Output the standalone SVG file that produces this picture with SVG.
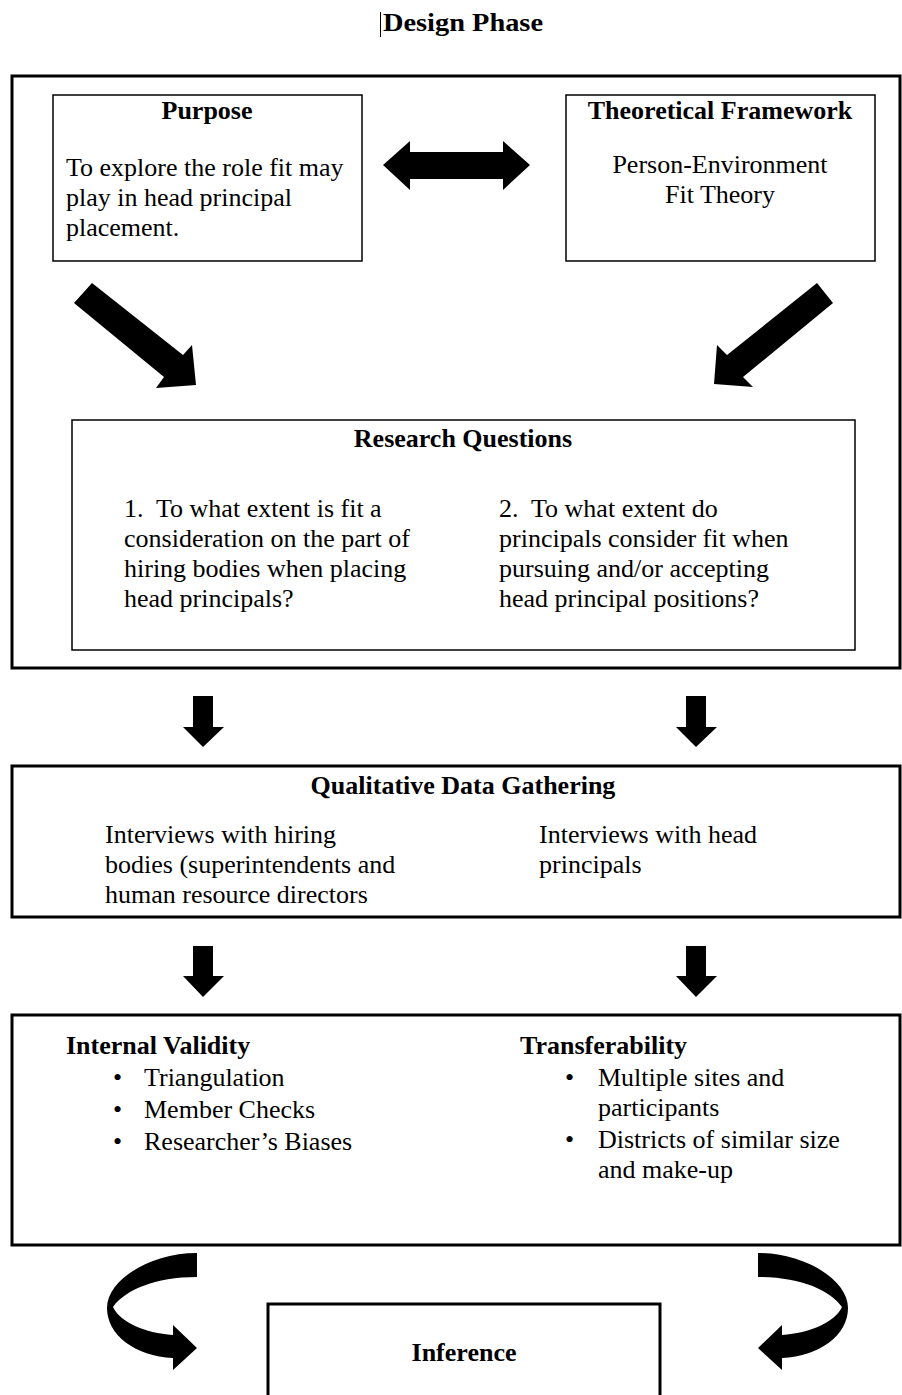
<svg xmlns="http://www.w3.org/2000/svg" width="902" height="1395" viewBox="0 0 902 1395">
<style>
text{font-family:"Liberation Serif","Times New Roman",serif;font-size:26px;fill:#000}
.b{font-weight:bold}
.m{text-anchor:middle}
.thick{fill:none;stroke:#000;stroke-width:3}
.thin{fill:none;stroke:#000;stroke-width:1.5}
.arr{fill:#000;stroke:none}
</style>
<rect width="902" height="1395" fill="#fff"/>
<g id="title">
<line x1="380.5" y1="12" x2="380.5" y2="37" stroke="#000" stroke-width="1"/>
<text x="383" y="31" class="b" textLength="160" lengthAdjust="spacingAndGlyphs">Design Phase</text>
</g>
<g id="design-frame"><rect class="thick" x="12" y="76" width="888" height="592"/></g>
<g id="purpose">
<rect class="thin" x="53" y="95" width="309" height="166"/>
<text x="207" y="119" class="b m">Purpose</text>
<text x="66" y="176">To explore the role fit may</text>
<text x="66" y="206">play in head principal</text>
<text x="66" y="236">placement.</text>
</g>
<g id="framework">
<rect class="thin" x="566" y="95" width="309" height="166"/>
<text x="720" y="119" class="b m">Theoretical Framework</text>
<text x="720" y="173" class="m">Person-Environment</text>
<text x="720" y="203" class="m">Fit Theory</text>
</g>
<g id="research-questions">
<rect class="thin" x="72" y="420" width="783" height="230"/>
<text x="463" y="447" class="b m">Research Questions</text>
<text x="124" y="517" xml:space="preserve">1.  To what extent is fit a</text>
<text x="124" y="547">consideration on the part of</text>
<text x="124" y="577">hiring bodies when placing</text>
<text x="124" y="607">head principals?</text>
<text x="499" y="517" xml:space="preserve">2.  To what extent do</text>
<text x="499" y="547">principals consider fit when</text>
<text x="499" y="577">pursuing and/or accepting</text>
<text x="499" y="607">head principal positions?</text>
</g>
<g id="data-gathering">
<rect class="thick" x="12" y="766" width="888" height="151"/>
<text x="463" y="794" class="b m">Qualitative Data Gathering</text>
<text x="105" y="843">Interviews with hiring</text>
<text x="105" y="873">bodies (superintendents and</text>
<text x="105" y="903">human resource directors</text>
<text x="539" y="843">Interviews with head</text>
<text x="539" y="873">principals</text>
</g>
<g id="validity">
<rect class="thick" x="12" y="1015" width="888" height="230"/>
<text x="66" y="1054" class="b">Internal Validity</text>
<text x="113" y="1086">•</text><text x="144" y="1086">Triangulation</text>
<text x="113" y="1118">•</text><text x="144" y="1118">Member Checks</text>
<text x="113" y="1150">•</text><text x="144" y="1150">Researcher’s Biases</text>
<text x="520" y="1054" class="b">Transferability</text>
<text x="565" y="1086">•</text><text x="598" y="1086">Multiple sites and</text>
<text x="598" y="1116">participants</text>
<text x="565" y="1148">•</text><text x="598" y="1148">Districts of similar size</text>
<text x="598" y="1178">and make-up</text>
</g>
<g id="inference">
<rect class="thick" x="268" y="1304" width="392" height="110"/>
<text x="464" y="1361" class="b m">Inference</text>
</g>
<g id="connectors">
<polygon class="arr" points="383,165 410,141 410,152 503,152 503,141 530,165 503,190 503,179 410,179 410,190"/>
<polygon class="arr" points="92,283 183,355 192,345 196,385 156,388 164,377 74,303"/>
<polygon class="arr" points="817,283 833,303 743,377 753,387 714,384 717,345 727,355"/>
<polygon class="arr" points="193,696 213,696 213,727 224,727 203,747 183,727 193,727"/>
<polygon class="arr" points="686,696 706,696 706,727 717,727 696,747 676,727 686,727"/>
<polygon class="arr" points="193,946 213,946 213,976 224,976 203,997 183,976 193,976"/>
<polygon class="arr" points="686,946 706,946 706,976 717,976 696,997 676,976 686,976"/>
<path id="curve-left" class="arr" d="M197,1253 L197,1277 C155,1277 125,1290 113,1307 C120,1322 145,1333 173,1335 L173,1325 L197,1348 L173,1370 L173,1358 C135,1356 107,1335 107,1308 C107,1280 150,1253 197,1253 Z"/>
<path class="arr" transform="translate(955,0) scale(-1,1)" d="M197,1253 L197,1277 C155,1277 125,1290 113,1307 C120,1322 145,1333 173,1335 L173,1325 L197,1348 L173,1370 L173,1358 C135,1356 107,1335 107,1308 C107,1280 150,1253 197,1253 Z"/>
</g>
</svg>
